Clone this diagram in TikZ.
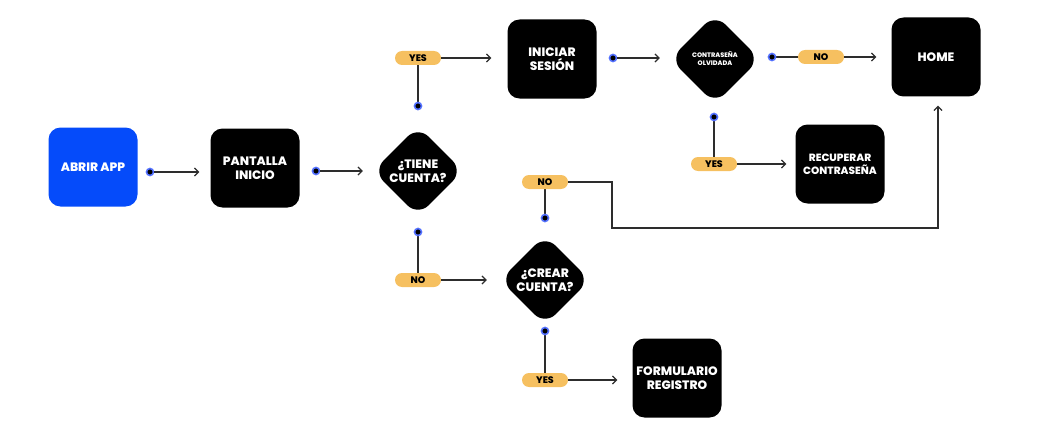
\documentclass[tikz,border=0pt]{standalone}
\usepackage{fontspec}
\setmainfont{Poppins ExtraBold}
\usetikzlibrary{arrows.meta,shapes.geometric,backgrounds}
\definecolor{appblue}{RGB}{5,75,250}
\definecolor{pillyellow}{RGB}{246,192,96}
\definecolor{ringblue}{RGB}{80,110,255}
\definecolor{linegray}{RGB}{45,45,45}

\begin{document}
\begin{tikzpicture}[x=1pt,y=-1pt,
  box/.style={fill=black, text=white, rounded corners=12pt, minimum width=89pt, minimum height=79pt, align=center, inner sep=0pt, font=\fontsize{12.2}{14}\selectfont},
  bluebox/.style={box, fill=appblue},
  decision/.style={diamond, aspect=1, fill=black, text=white, rounded corners=15pt, minimum width=90pt, minimum height=90pt, inner sep=0pt, align=center, font=\fontsize{12.2}{14}\selectfont},
  pill/.style={fill=pillyellow, rounded corners=7pt, minimum width=46pt, minimum height=14pt, inner sep=0pt, font=\fontsize{9.5}{12}\selectfont},
  dot/.style={circle, fill=black, draw=ringblue, line width=1.6pt, minimum size=7pt, inner sep=0pt},
  link/.style={draw=linegray, line width=1.2pt},
  arr/.style={link, -{Straight Barb[length=4pt,width=8pt]}}]
\useasboundingbox (0,0) rectangle (1058,436);

\node[bluebox] (abrir) at (93,167) {ABRIR APP};
\node[box] (pantalla) at (255,168) {PANTALLA\\INICIO};
\node[decision] (tiene) at (418,171) {¿TIENE\\CUENTA?};
\node[box] (iniciar) at (552,59) {INICIAR\\SESIÓN};
\node[decision, font=\fontsize{6.5}{8}\selectfont] (olvidada) at (715,59) {CONTRASEÑA\\OLVIDADA};
\node[box] (home) at (936,57) {HOME};
\node[box, font=\fontsize{10.5}{13}\selectfont] (recuperar) at (840,164) {RECUPERAR\\CONTRASEÑA};
\node[decision] (crear) at (545,280) {¿CREAR\\CUENTA?};
\node[box] (formulario) at (677,378) {FORMULARIO\\REGISTRO};

\node[pill] (yes1) at (418,58) {YES};
\node[pill] (no1) at (418,280) {NO};
\node[pill] (no2) at (545,182) {NO};
\node[pill] (no3) at (821,57) {NO};
\node[pill] (yes2) at (714,164) {YES};
\node[pill] (yes3) at (545,380) {YES};

\node[dot] (d1) at (150,172) {};
\node[dot] (d2) at (316,171) {};
\node[dot] (d3) at (418,106) {};
\node[dot] (d4) at (418,232) {};
\node[dot] (d5) at (613,58) {};
\node[dot] (d6) at (772,57) {};
\node[dot] (d7) at (714,117) {};
\node[dot] (d8) at (545,218) {};
\node[dot] (d9) at (545,331) {};

\begin{pgfonlayer}{background}
\draw[link] (d3.south) -- (yes1.north);
\draw[link] (d4.north) -- (no1.south);
\draw[link] (d6.west) -- (no3.east);
\draw[link] (d7.north) -- (yes2.south);
\draw[link] (d8.south) -- (no2.north);
\draw[link] (d9.north) -- (yes3.south);
\end{pgfonlayer}

\draw[arr, shorten >=11pt] (d1.east) -- (d1 -| pantalla.west);
\draw[arr, shorten >=10pt] (d2.east) -- (d2 -| tiene.west);
\draw[arr, shorten >=10pt] (d5.east) -- (d5 -| olvidada.west);

\coordinate (bend) at (612,228);
\draw[arr, shorten >=16pt] (yes1.east) -- (yes1 -| iniciar.west);
\draw[arr, shorten >=13pt] (no1.east) -- (no1 -| crear.west);
\draw[arr, shorten >=15pt] (no3.east) -- (no3 -| home.west);
\draw[arr, shorten >=9pt] (yes2.east) -- (yes2 -| recuperar.west);
\draw[arr, shorten >=15pt] (yes3.east) -- (yes3 -| formulario.west);
\draw[arr, shorten >=9pt] (no2.east) -| (bend) -| ([xshift=2pt]home.south);
\end{tikzpicture}
\end{document}
